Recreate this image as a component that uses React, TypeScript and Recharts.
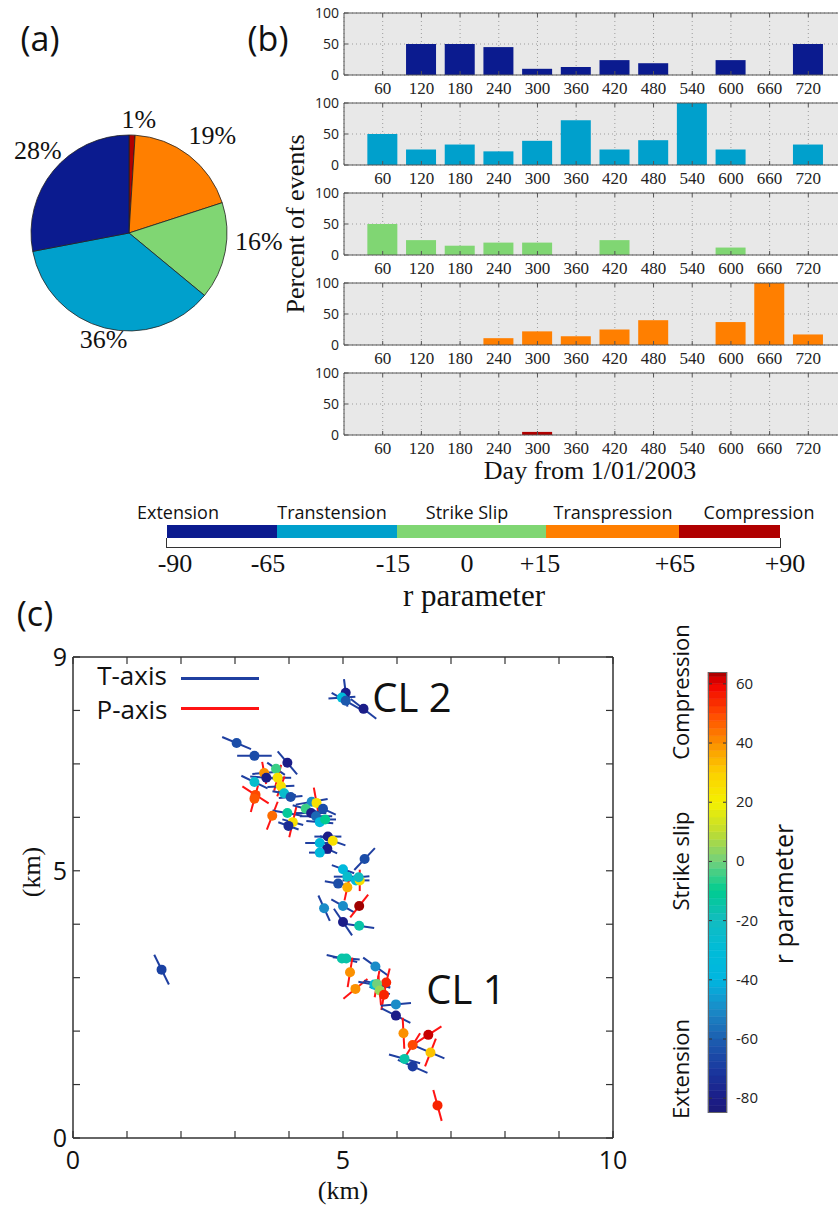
import React from "react";
import {
  BarChart, Bar, XAxis, YAxis, CartesianGrid, ReferenceLine,
  PieChart, Pie, Cell, ScatterChart, Scatter,
} from "recharts";

// ---- (b) percent of events per 60-day window ----
const days = [60, 120, 180, 240, 300, 360, 420, 480, 540, 600, 660, 720];
const extensionPct = [0, 50, 50, 45, 10, 13, 24, 19, 0, 24, 0, 50];
const transtensionPct = [50, 25, 33, 22, 39, 72, 25, 40, 100, 25, 0, 33];
const strikeSlipPct = [50, 24, 15, 20, 20, 0, 24, 0, 0, 12, 0, 0];
const transpressionPct = [0, 0, 0, 11, 22, 14, 25, 40, 0, 37, 100, 17];
const compressionPct = [0, 0, 0, 0, 5, 0, 0, 0, 0, 0, 0, 0];

// ---- (a) share of all events, clockwise from top ----
const pieNames = ["Compression", "Transpression", "Strike Slip", "Transtension", "Extension"];
const pieShares = [1, 19, 16, 36, 28];

const classNames = ["Extension", "Transtension", "Strike Slip", "Transpression", "Compression"];
const classColors = ["#0b1b8f", "#00a0cc", "#80d673", "#ff7f00", "#b00000"];
const classTicks = ["-90", "-65", "-15", "0", "+15", "+65", "+90"];

// ---- (c) events: [x km, y km, r, T-axis angle deg, T half length km, P-axis angle deg, P half length km]
const cl2Events = [
  [5.05, 8.33, -80, 97, 0.26, 0, 0],
  [4.98, 8.24, -30, 4, 0.25, 0, 0],
  [5.05, 8.18, -62, -30, 0.3, 0, 0],
  [5.38, 8.03, -80, -38, 0.3, 0, 0],
];
const northEvents = [
  [3.03, 7.39, -65, -23, 0.29, 0, 0],
  [3.36, 7.15, -65, 0, 0.32, 0, 0],
  [3.97, 7.02, -80, -50, 0.28, 0, 0],
  [3.76, 6.91, -5, -35, 0.2, 0, 0],
  [3.54, 6.83, 40, 5, 0.22, 100, 0.21],
  [3.58, 6.74, -80, -5, 0.3, 0, 0],
  [3.79, 6.74, 25, 0, 0.25, 75, 0.25],
  [3.36, 6.66, -25, -26, 0.27, 0, 0],
  [3.85, 6.58, 25, 3, 0.25, 70, 0.2],
  [3.91, 6.45, -25, -10, 0.22, 0, 0],
  [4.03, 6.38, -65, 5, 0.22, 0, 0],
  [3.38, 6.42, 50, 0, 0, -33, 0.29],
  [3.36, 6.35, 48, 0, 0, 75, 0.26],
  [3.69, 6.03, 45, 0, 0, 69, 0.28],
  [3.97, 6.08, -12, -10, 0.28, 0, 0],
  [4.07, 5.91, 25, -15, 0.2, 77, 0.29],
  [3.99, 5.84, -75, -20, 0.2, 0, 0],
  [4.42, 6.29, -50, 10, 0.3, 0, 0],
  [4.51, 6.27, 25, 0, 0, 100, 0.29],
  [4.31, 6.16, -5, -15, 0.25, 0, 0],
  [4.41, 6.08, -80, 0, 0.28, 0, 0],
  [4.63, 6.16, -65, -25, 0.26, 0, 0],
  [4.5, 6.02, -58, 0, 0.3, 0, 0],
  [4.57, 5.91, -35, -5, 0.25, 0, 0],
  [4.67, 5.96, -10, 0, 0.2, 0, 0],
  [4.72, 5.64, -80, 0, 0.25, 0, 0],
  [4.81, 5.56, 25, -20, 0.25, 0, 0],
  [4.57, 5.52, -35, 0, 0.27, 0, 0],
  [4.71, 5.41, -80, -25, 0.2, 0, 0],
  [4.57, 5.34, -35, 0, 0.2, 0, 0],
];
const middleEvents = [
  [5.4, 5.22, -65, 47, 0.28, 0, 0],
  [5.0, 5.03, -35, -20, 0.22, 0, 0],
  [5.08, 4.89, -25, 0, 0.25, 0, 0],
  [5.24, 4.82, -30, 0, 0.25, 0, 0],
  [5.31, 4.82, 25, 0, 0, 90, 0.2],
  [5.29, 4.88, -20, 5, 0.2, 0, 0],
  [4.91, 4.76, -65, -10, 0.25, 0, 0],
  [5.08, 4.69, 35, 0, 0, 78, 0.25],
  [4.65, 4.3, -50, -66, 0.26, 0, 0],
  [5.0, 4.34, -50, -30, 0.25, 0, 0],
  [5.3, 4.34, 64, 0, 0, 52, 0.27],
  [5.0, 4.04, -80, -56, 0.3, 0, 0],
  [5.3, 3.97, -15, -8, 0.28, 0, 0],
  [1.64, 3.15, -68, -64, 0.31, 0, 0],
];
const cl1Events = [
  [4.98, 3.36, -15, -13, 0.29, 0, 0],
  [5.06, 3.36, -15, -5, 0.25, 0, 0],
  [5.13, 3.1, 40, 0, 0, 81, 0.28],
  [5.6, 3.21, -50, -36, 0.28, 0, 0],
  [5.23, 2.79, 40, 0, 0, 40, 0.29],
  [5.8, 2.91, 55, 0, 0, 76, 0.27],
  [5.58, 2.87, -30, -10, 0.3, 0, 0],
  [5.63, 2.88, 0, -15, 0.25, 80, 0.25],
  [5.68, 2.76, 5, -20, 0.2, 95, 0.28],
  [5.76, 2.68, 55, 0, 0, 80, 0.29],
  [5.98, 2.5, -50, 5, 0.28, 0, 0],
  [5.98, 2.29, -80, -27, 0.3, 0, 0],
  [6.12, 1.96, 40, 0, 0, 93, 0.29],
  [6.58, 1.93, 62, 0, 0, 33, 0.29],
  [6.29, 1.74, 50, 0, 0, 58, 0.26],
  [6.62, 1.6, 32, -23, 0.28, 69, 0.28],
  [6.14, 1.48, -15, -16, 0.3, 0, 0],
  [6.29, 1.34, -70, -24, 0.3, 0, 0],
  [6.75, 0.61, 55, 0, 0, 105, 0.3],
];

const kmTicksX = [0, 1, 2, 3, 4, 5, 6, 7, 8, 9, 10];
const kmTicksY = [0, 1, 2, 3, 4, 5, 6, 7, 8, 9];
const kmLabelsX = [0, 5, 10];
const kmLabelsY = [0, 5, 9];
const rTicks = [-80, -60, -40, -20, 0, 20, 40, 60];
const rRange = [-85, 64];

// colour ramp for r parameter
const rampStops = [-85, -80, -70, -60, -50, -40, -30, -20, -10, 0, 10, 20, 30, 40, 50, 60, 64];
const rampColors = ["#1b1a78", "#1b1d88", "#1a3aa0", "#1c5fb0", "#1a8cc8", "#00b6e0", "#00bcd8", "#12bcc0",
  "#00cc90", "#72d07c", "#c0dc30", "#f4f000", "#fcd000", "#fb9000", "#ff4800", "#f00000", "#a00000"];

const SERIF = "'Liberation Serif', 'Times New Roman', serif";
const SANS = "'Open Sans', 'Liberation Sans', sans-serif";
const TCOL = "#1f3fa0";
const PCOL = "#ff1414";

function hex(c: string) {
  return [1, 3, 5].map((i) => parseInt(c.slice(i, i + 2), 16));
}
function colorFor(r: number) {
  if (r <= rampStops[0]) return rampColors[0];
  for (let i = 1; i < rampStops.length; i++) {
    if (r <= rampStops[i]) {
      const t = (r - rampStops[i - 1]) / (rampStops[i] - rampStops[i - 1]);
      const a = hex(rampColors[i - 1]);
      const b = hex(rampColors[i]);
      const m = a.map((v, k) => Math.round(v + (b[k] - v) * t));
      return `rgb(${m[0]},${m[1]},${m[2]})`;
    }
  }
  return rampColors[rampColors.length - 1];
}

function Txt({ x, y, size, family = SANS, rotate = 0, children }: any) {
  return (
    <div
      style={{
        position: "absolute", left: x, top: y, fontSize: size, fontFamily: family, lineHeight: 1,
        whiteSpace: "nowrap", color: "#111", transform: `translate(-50%,-50%) rotate(${rotate}deg)`,
      }}
    >
      {children}
    </div>
  );
}

// ---------- (b) panels ----------
const PANEL_H = 62;

const barXTick = (p: any) => (
  <g>
    <line x1={p.x} y1={p.y} x2={p.x} y2={p.y - 4} stroke="#555" />
    <line x1={p.x} y1={p.y - PANEL_H} x2={p.x} y2={p.y - PANEL_H + 4} stroke="#555" />
    <text x={p.x} y={p.y + 19} textAnchor="middle" fontFamily={SERIF} fontSize={17} fill="#222">
      {p.payload.value}
    </text>
  </g>
);

const barYTick = (p: any) => (
  <g>
    <line x1={p.x} y1={p.y} x2={p.x + 4} y2={p.y} stroke="#555" />
    <text x={p.x - 5} y={p.y + 5} textAnchor="end" fontFamily={SANS} fontSize={14} fill="#222">
      {p.payload.value}
    </text>
  </g>
);

function DayPanel({ values, color, top }: { values: number[]; color: string; top: number }) {
  const data = days.map((d, i) => ({ day: d, pct: values[i] }));
  return (
    <div style={{ position: "absolute", left: 308, top }}>
      <BarChart width={539} height={100} data={data} margin={{ top: 10, right: 0, bottom: 0, left: 0 }}>
        <CartesianGrid fill="#e8e8e8" stroke="#9c9c9c" strokeDasharray="1 3" />
        <XAxis
          type="number" dataKey="day" domain={[0, 780]} ticks={days} interval={0}
          height={28} tickSize={0} tickMargin={0} tickLine={false} tick={barXTick}
          axisLine={{ stroke: "#555" }}
        />
        <YAxis
          domain={[0, 100]} ticks={[0, 50, 100]} interval={0} width={36}
          tickSize={0} tickMargin={0} tickLine={false} tick={barYTick} axisLine={{ stroke: "#555" }}
        />
        <ReferenceLine y={100} stroke="#555" ifOverflow="visible" />
        <Bar dataKey="pct" fill={color} barSize={30} isAnimationActive={false} />
      </BarChart>
    </div>
  );
}

// ---------- (a) pie ----------
const RAD = Math.PI / 180;
function pieLabel(p: any) {
  const c = Math.cos(-p.midAngle * RAD);
  const s = Math.sin(-p.midAngle * RAD);
  const x = p.cx + (p.outerRadius + 28) * c + 6;
  const y = p.cy + (p.outerRadius + 15) * s - 13 * Math.abs(c);
  return (
    <text x={x} y={y} textAnchor="middle" dominantBaseline="central" fontFamily={SERIF} fontSize={26} fill="#111">
      {p.value}%
    </text>
  );
}

// ---------- (c) map ----------
const MAP_W = 540;
const MAP_H = 481;

const kmXTick = (p: any) => (
  <g>
    <line x1={p.x} y1={p.y} x2={p.x} y2={p.y - 7} stroke="#333" strokeWidth={1.2} />
    <line x1={p.x} y1={p.y - MAP_H} x2={p.x} y2={p.y - MAP_H + 7} stroke="#333" strokeWidth={1.2} />
    {kmLabelsX.includes(p.payload.value) && (
      <text x={p.x} y={p.y + 31} textAnchor="middle" fontFamily={SANS} fontSize={25} fill="#111">
        {p.payload.value}
      </text>
    )}
  </g>
);

const kmYTick = (p: any) => (
  <g>
    <line x1={p.x} y1={p.y} x2={p.x + 7} y2={p.y} stroke="#333" strokeWidth={1.2} />
    <line x1={p.x + MAP_W} y1={p.y} x2={p.x + MAP_W - 7} y2={p.y} stroke="#333" strokeWidth={1.2} />
    {kmLabelsY.includes(p.payload.value) && (
      <text x={p.x - 6} y={p.y + 9} textAnchor="end" fontFamily={SANS} fontSize={25} fill="#111">
        {p.payload.value}
      </text>
    )}
  </g>
);

const cbTick = (p: any) => (
  <g>
    <line x1={p.x - 4} y1={p.y} x2={p.x} y2={p.y} stroke="#333" />
    <line x1={p.x - 19} y1={p.y} x2={p.x - 15} y2={p.y} stroke="#333" />
    <text x={p.x + 9} y={p.y + 5} textAnchor="start" fontFamily={SANS} fontSize={15} fill="#222">
      {p.payload.value}
    </text>
  </g>
);

// colour-bar bands, stacked out from zero (negative down, positive up)
function buildBands(step: number) {
  const list: { key: string; value: number; color: string }[] = [];
  for (let lo = 0; lo > rRange[0]; lo -= step) {
    const hi = Math.max(lo - step, rRange[0]);
    list.push({ key: `n${list.length}`, value: hi - lo, color: colorFor((lo + hi) / 2) });
  }
  for (let lo = 0; lo < rRange[1]; lo += step) {
    const hi = Math.min(lo + step, rRange[1]);
    list.push({ key: `p${list.length}`, value: hi - lo, color: colorFor((lo + hi) / 2) });
  }
  return list;
}

export default function App() {
  const allEvents = [...cl2Events, ...northEvents, ...middleEvents, ...cl1Events];
  const points = allEvents.map((e) => ({ x: e[0], y: e[1], r: e[2] }));
  const segments: { a: any; b: any; c: string }[] = [];
  allEvents.forEach((e) => {
    if (e[4] > 0) {
      const dx = e[4] * Math.cos(e[3] * RAD);
      const dy = e[4] * Math.sin(e[3] * RAD);
      segments.push({ a: { x: e[0] - dx, y: e[1] - dy }, b: { x: e[0] + dx, y: e[1] + dy }, c: TCOL });
    }
    if (e[6] > 0) {
      const dx = e[6] * Math.cos(e[5] * RAD);
      const dy = e[6] * Math.sin(e[5] * RAD);
      segments.push({ a: { x: e[0] - dx, y: e[1] - dy }, b: { x: e[0] + dx, y: e[1] + dy }, c: PCOL });
    }
  });
  const pieData = pieNames.map((n, i) => ({ name: n, value: pieShares[i] }));
  const pieColors = [classColors[4], classColors[3], classColors[2], classColors[1], classColors[0]];

  const bands = buildBands(2.5);
  const cbRow: any = { name: "r" };
  bands.forEach((b) => { cbRow[b.key] = b.value; });

  const segEdges = [167, 277, 397, 546, 679, 780];
  const classLabelX = [178, 332, 467, 613, 759];
  const classTickX = [175, 268, 393, 467, 540, 675, 785];

  return (
    <div style={{ position: "absolute", left: 0, top: 0, width: 838, height: 1208, overflow: "hidden", background: "#fff" }}>
      <Txt x={40} y={38} size={34}>(a)</Txt>
      <Txt x={268} y={38} size={34}>(b)</Txt>
      <Txt x={35} y={613} size={34}>(c)</Txt>

      {/* (a) */}
      <div style={{ position: "absolute", left: 0, top: 70 }}>
        <PieChart width={300} height={320}>
          <Pie
            data={pieData} dataKey="value" cx={124} cy={158} outerRadius={98}
            startAngle={90} endAngle={-270} stroke="#222" strokeWidth={0.8}
            label={pieLabel} labelLine={false} isAnimationActive={false}
          >
            {pieData.map((d, i) => <Cell key={d.name} fill={pieColors[i]} />)}
          </Pie>
        </PieChart>
      </div>

      {/* (b) */}
      <DayPanel values={extensionPct} color={classColors[0]} top={3} />
      <DayPanel values={transtensionPct} color={classColors[1]} top={93} />
      <DayPanel values={strikeSlipPct} color={classColors[2]} top={183} />
      <DayPanel values={transpressionPct} color={classColors[3]} top={273} />
      <DayPanel values={compressionPct} color={classColors[4]} top={363} />
      <Txt x={296} y={224} size={26} family={SERIF} rotate={-90}>Percent of events</Txt>
      <Txt x={590} y={471} size={26} family={SERIF}>Day from 1/01/2003</Txt>

      {/* class legend */}
      {classNames.map((n, i) => (
        <React.Fragment key={n}>
          <div style={{ position: "absolute", left: segEdges[i], top: 525, width: segEdges[i + 1] - segEdges[i], height: 13, background: classColors[i] }} />
          <Txt x={classLabelX[i]} y={512} size={18}>{n}</Txt>
        </React.Fragment>
      ))}
      <div style={{ position: "absolute", left: 166, top: 538, width: 613, height: 9, borderLeft: "1.5px solid #333", borderRight: "1.5px solid #333", borderBottom: "1.5px solid #333" }} />
      {classTicks.map((t, i) => (
        <Txt key={t} x={classTickX[i]} y={564} size={26} family={SERIF}>{t}</Txt>
      ))}
      <Txt x={474} y={595} size={31} family={SERIF}>r parameter</Txt>

      {/* (c) */}
      <div style={{ position: "absolute", left: 0, top: 640 }}>
        <ScatterChart width={640} height={568} margin={{ top: 17, right: 27, bottom: 30, left: 33 }}>
          <XAxis
            type="number" dataKey="x" domain={[0, 10]} ticks={kmTicksX} interval={0} height={40}
            tickSize={0} tickMargin={0} tickLine={false} tick={kmXTick} axisLine={{ stroke: "#333", strokeWidth: 1.5 }}
          />
          <YAxis
            type="number" dataKey="y" domain={[0, 9]} ticks={kmTicksY} interval={0} width={40}
            tickSize={0} tickMargin={0} tickLine={false} tick={kmYTick} axisLine={{ stroke: "#333", strokeWidth: 1.5 }}
          />
          <ReferenceLine y={9} stroke="#333" strokeWidth={1.5} ifOverflow="visible" />
          <ReferenceLine x={10} stroke="#333" strokeWidth={1.5} ifOverflow="visible" />
          {segments.map((s, i) => (
            <ReferenceLine key={i} segment={[s.a, s.b]} stroke={s.c} strokeWidth={2} ifOverflow="visible" />
          ))}
          <Scatter
            data={points} isAnimationActive={false}
            shape={(p: any) => <circle cx={p.cx} cy={p.cy} r={5} fill={colorFor(p.payload.r)} />}
          />
        </ScatterChart>
      </div>
      <Txt x={343} y={1191} size={26} family={SERIF}>(km)</Txt>
      <Txt x={32} y={872} size={26} family={SERIF} rotate={-90}>(km)</Txt>
      <Txt x={132} y={675} size={26}>T-axis</Txt>
      <Txt x={132} y={709} size={26}>P-axis</Txt>
      <div style={{ position: "absolute", left: 181, top: 677, width: 78, height: 3, background: TCOL }} />
      <div style={{ position: "absolute", left: 181, top: 707, width: 78, height: 3, background: PCOL }} />
      <Txt x={412} y={697} size={40}>CL 2</Txt>
      <Txt x={466} y={989} size={40}>CL 1</Txt>

      {/* colour bar */}
      <div style={{ position: "absolute", left: 690, top: 660 }}>
        <BarChart
          width={77} height={468} data={[cbRow]} stackOffset="sign" barCategoryGap={0}
          margin={{ top: 12, right: 0, bottom: 15, left: 18 }}
        >
          <XAxis dataKey="name" hide />
          <YAxis
            orientation="right" type="number" domain={rRange} allowDataOverflow ticks={rTicks} interval={0} width={40}
            tickSize={0} tickMargin={0} tickLine={false} axisLine={false} tick={cbTick}
          />
          {bands.map((b) => (
            <Bar key={b.key} dataKey={b.key} stackId="cb" fill={b.color} stroke={b.color} strokeWidth={0.6} isAnimationActive={false} />
          ))}
        </BarChart>
      </div>
      <div style={{ position: "absolute", left: 708, top: 672, width: 19, height: 441, border: "1px solid #666", boxSizing: "border-box", pointerEvents: "none" }} />
      <Txt x={680} y={692} size={22} rotate={-90}>Compression</Txt>
      <Txt x={680} y={861} size={22} rotate={-90}>Strike slip</Txt>
      <Txt x={680} y={1069} size={22} rotate={-90}>Extension</Txt>
      <Txt x={783} y={894} size={25} rotate={-90}>r parameter</Txt>
    </div>
  );
}
